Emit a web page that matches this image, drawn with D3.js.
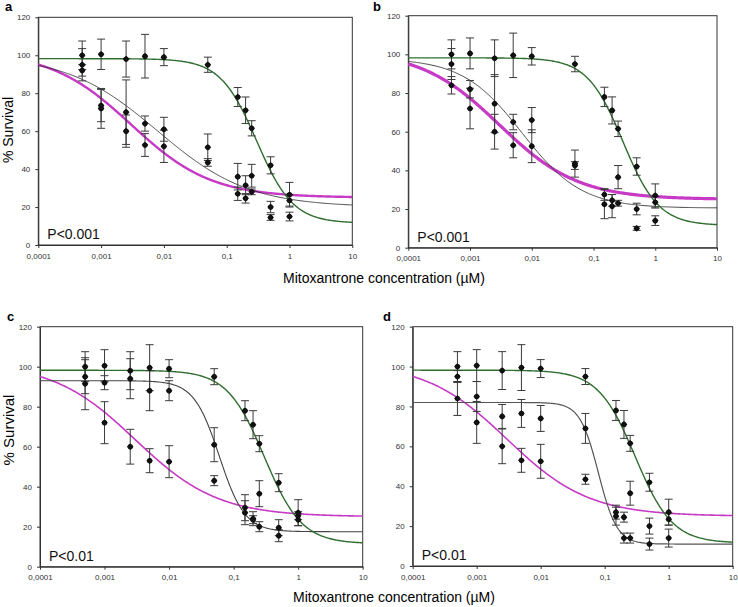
<!DOCTYPE html>
<html>
<head>
<meta charset="utf-8">
<script src="https://cdn.jsdelivr.net/npm/d3@7"></script>
<style>
  body { margin: 0; background: #fff; }
  svg { display: block; font-family: "Liberation Sans", Arial, sans-serif; }
</style>
</head>
<body>
<svg id="chart" width="738" height="607"></svg>
<script>
// concentrations (µM) and axis ticks
var conc = [0.0005, 0.001, 0.0025, 0.005, 0.01, 0.05, 0.15, 0.2, 0.25, 0.5, 1];
var xTicks = [0.0001, 0.001, 0.01, 0.1, 1, 10];
var xTickLabels = ["0,0001", "0,001", "0,01", "0,1", "1", "10"];
var yTicks = [0, 20, 40, 60, 80, 100, 120];

// control cells (green curve), same in every panel
var controlMean = [100, 100.5, 98, 99.5, 99, 95, 78, 71, 61.5, 42, 23.5];
var controlErr  = [7.5, 8, 9.5, 11.5, 4.5, 4, 5, 7, 4, 4.5, 3];

// panel a
var aBlackMean = [95, 73.5, 70, 64, 61, 51.5, 36, 31.5, 36.5, 20, 26.5];
var aBlackErr  = [8.5, 8.5, 17, 4, 6.3, 7, 7, 5, 6, 3, 6.5];
var aPinkMean  = [92, 72, 60, 52.7, 52, 43.5, 27, 24.6, 28, 14.5, 15];
var aPinkErr   = [3, 10.5, 8.5, 6, 8.5, 2, 3.5, 2.5, 1.5, 1.5, 2.3];

// panel b
var bBlackMean = [95, 82, 74.5, 65, 66, 43.5, 27.5, 24.5, 36.5, 20, 27];
var bBlackErr  = [8, 4.5, 15, 4, 6.5, 7, 3, 3, 6, 3, 6];
var bPinkMean  = [84, 72, 60, 53, 52.5, 42.5, 22.5, 21.5, 23, 10, 14];
var bPinkErr   = [4.5, 10.5, 9, 6.5, 8.5, 2, 7.5, 6, 1.5, 1, 2.5];

// panel c
var cBlackMean = [95, 92, 94, 88, 88, 61, 29.5, 24, 20, 19.5, 25.5];
var cBlackErr  = [8.5, 3.5, 10, 10, 5, 8.5, 6.5, 3.5, 2.5, 4, 2];
var cPinkMean  = [91.5, 72, 60, 53, 52.5, 43, 27, 23.5, 36.5, 15.5, 27];
var cPinkErr   = [13, 10.5, 8.7, 6, 8, 2.5, 6, 2, 6.5, 3, 6.5];

// panel d
var dBlackMean = [84, 85, 75, 76.5, 74, 69, 25, 14, 14, 11, 14];
var dBlackErr  = [8.5, 7.5, 6, 7, 6.5, 7.5, 4.5, 2.5, 2.5, 3, 4.5];
var dPinkMean  = [95, 72, 60, 53, 52.5, 43.5, 27, 24.5, 36.5, 20, 27];
var dPinkErr   = [3, 10.5, 8.7, 6, 8.5, 2.5, 3.5, 2.5, 6, 4, 6.5];

// fitted dose-response curves: [top, bottom, EC50, hill]
var controlFit = [98.2, 11.5, 0.3, 1.5];
var pinkFit    = [102, 25, 0.003, 0.68];
var aBlackFit  = [100, 20, 0.008, 0.6];
var bBlackFit  = [98, 20.5, 0.007, 0.9];
var cBlackFit  = [93, 17.5, 0.06, 2.2];
var dBlackFit  = [82, 11, 0.08, 3];

var pLabels = ["P<0.001", "P<0.001", "P<0.01", "P<0.01"];
var panelLetters = ["a", "b", "c", "d"];

var panels = [
  {black: [aBlackMean, aBlackErr, aBlackFit], pink: [aPinkMean, aPinkErr],
   box: {left: 38.3, right: 352.3, top: 17.3, bottom: 245}, pinkW: 2.4, blackW: 0.8, blackC: "#222",
   letter: [5, 11]},
  {black: [bBlackMean, bBlackErr, bBlackFit], pink: [bPinkMean, bPinkErr],
   box: {left: 408.3, right: 717, top: 15.7, bottom: 247.7}, pinkW: 3.2, blackW: 0.9, blackC: "#333",
   letter: [373, 11]},
  {black: [cBlackMean, cBlackErr, cBlackFit], pink: [cPinkMean, cPinkErr],
   box: {left: 40, right: 362.7, top: 326.7, bottom: 566.7}, pinkW: 1.6, blackW: 1.1, blackC: "#444",
   letter: [7, 321]},
  {black: [dBlackMean, dBlackErr, dBlackFit], pink: [dPinkMean, dPinkErr],
   box: {left: 412.7, right: 732.7, top: 326.7, bottom: 566}, pinkW: 1.6, blackW: 1.2, blackC: "#555",
   letter: [383, 321]}
];

var svg = d3.select("#chart");

function logistic(p, x) {
  return p[1] + (p[0] - p[1]) / (1 + Math.pow(x / p[2], p[3]));
}

panels.forEach(function(pn, i) {
  var b = pn.box;
  var x = d3.scaleLog().domain([0.0001, 10]).range([b.left, b.right]);
  var y = d3.scaleLinear().domain([0, 120]).range([b.bottom, b.top]);
  var g = svg.append("g");

  // frame
  g.append("rect")
    .attr("x", b.left).attr("y", b.top)
    .attr("width", b.right - b.left).attr("height", b.bottom - b.top)
    .attr("fill", "none").attr("stroke", "#333").attr("stroke-width", 1);

  // axes
  var xa = g.append("g")
    .attr("transform", "translate(0," + b.bottom + ")")
    .call(d3.axisBottom(x).tickValues(xTicks)
      .tickFormat(function(d, k) { return xTickLabels[k]; })
      .tickSize(3).tickSizeOuter(0).tickPadding(5));
  var ya = g.append("g")
    .attr("transform", "translate(" + b.left + ",0)")
    .call(d3.axisLeft(y).tickValues(yTicks).tickSize(3).tickSizeOuter(0).tickPadding(5));
  [xa, ya].forEach(function(a) {
    a.select(".domain").attr("stroke", "#333");
    a.selectAll(".tick line").attr("stroke", "#333");
    a.selectAll(".tick text").attr("fill", "#333")
      .style("font-size", "8px").style("font-family", "'Liberation Sans', Arial, sans-serif");
  });

  // fitted curves
  var xs = d3.range(0, 301).map(function(k) { return Math.pow(10, -4 + 5 * k / 300); });
  var line = function(p) {
    return d3.line()
      .x(function(d) { return x(d); })
      .y(function(d) { return y(logistic(p, d)); })(xs);
  };
  g.append("path").attr("d", line(pinkFit))
    .attr("fill", "none").attr("stroke", "#c63ac6").attr("stroke-width", pn.pinkW);
  g.append("path").attr("d", line(pn.black[2]))
    .attr("fill", "none").attr("stroke", pn.blackC).attr("stroke-width", pn.blackW);
  g.append("path").attr("d", line(controlFit))
    .attr("fill", "none").attr("stroke", "#2f6e2f").attr("stroke-width", 1.4);

  // points with error bars
  var sets = [[controlMean, controlErr], [pn.black[0], pn.black[1]], [pn.pink[0], pn.pink[1]]];
  var pts = [];
  sets.forEach(function(s) {
    conc.forEach(function(c, k) {
      if (s[0][k] != null) pts.push({c: c, m: s[0][k], e: s[1][k]});
    });
  });

  var eb = g.append("g").attr("stroke", "#3a3a3a").attr("stroke-width", 1);
  pts.forEach(function(d) {
    var cx = x(d.c), y1 = y(d.m + d.e), y2 = y(d.m - d.e);
    eb.append("line").attr("x1", cx).attr("x2", cx).attr("y1", y1).attr("y2", y2);
    eb.append("line").attr("x1", cx - 4).attr("x2", cx + 4).attr("y1", y1).attr("y2", y1);
    eb.append("line").attr("x1", cx - 4).attr("x2", cx + 4).attr("y1", y2).attr("y2", y2);
  });

  var sym = d3.symbol().type(d3.symbolSquare).size(22);
  g.append("g").selectAll("path")
    .data(pts).enter().append("path")
    .attr("d", sym)
    .attr("transform", function(d) { return "translate(" + x(d.c) + "," + y(d.m) + ") rotate(45)"; })
    .attr("fill", "#111");
  g.append("g").selectAll("circle")
    .data(pts).enter().append("circle")
    .attr("cx", function(d) { return x(d.c); })
    .attr("cy", function(d) { return y(d.m); })
    .attr("r", 2.6).attr("fill", "#111");

  // P value
  g.append("text")
    .attr("x", b.left + 9).attr("y", b.bottom - 6)
    .style("font-size", "14px").attr("fill", "#111")
    .text(pLabels[i]);

  // panel letter
  svg.append("text")
    .attr("x", pn.letter[0]).attr("y", pn.letter[1])
    .style("font-size", "13px").style("font-weight", "bold")
    .text(panelLetters[i]);
});

// axis titles
svg.append("text")
  .attr("transform", "translate(13,130) rotate(-90)")
  .attr("text-anchor", "middle").style("font-size", "14px")
  .text("% Survival");
svg.append("text")
  .attr("transform", "translate(14,430) rotate(-90)")
  .attr("text-anchor", "middle").style("font-size", "15px")
  .text("% Survival");
svg.append("text")
  .attr("x", 384).attr("y", 283)
  .attr("text-anchor", "middle").style("font-size", "14px")
  .text("Mitoxantrone concentration (µM)");
svg.append("text")
  .attr("x", 394).attr("y", 602)
  .attr("text-anchor", "middle").style("font-size", "14px")
  .text("Mitoxantrone concentration (µM)");
</script>
</body>
</html>
